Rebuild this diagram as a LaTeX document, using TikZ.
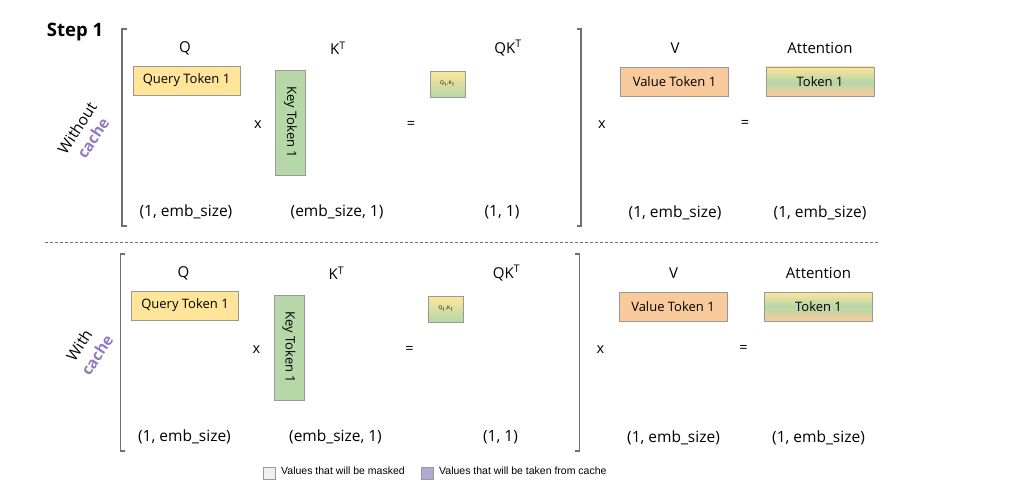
\documentclass[tikz,border=0pt]{standalone}
\usepackage{fontspec}
\setmainfont{Open Sans}
\newfontfamily\arialf{Liberation Sans}
\definecolor{qy}{HTML}{FFE599}
\definecolor{kg}{HTML}{B6D7A8}
\definecolor{vo}{HTML}{F9CB9C}
\definecolor{lgray}{HTML}{EFEFEF}
\definecolor{lpurp}{HTML}{B4A7D6}
\definecolor{cpurp}{HTML}{8E7CC3}
\definecolor{bord}{HTML}{999999}
\definecolor{brk}{HTML}{707070}
\tikzset{
  tok/.style={draw=bord, line width=0.9pt, inner sep=0pt, font=\fontsize{13}{15}\selectfont},
  hdr/.style={inner sep=0pt, font=\fontsize{15}{17}\selectfont},
  dim/.style={inner sep=0pt, font=\fontsize{15.5}{17}\selectfont},
  opr/.style={inner sep=0pt, font=\fontsize{14.5}{16}\selectfont},
  brack/.style={draw=brk, line width=1.4pt},
  side/.style={inner sep=0pt, rotate=57, font=\fontsize{15.5}{16}\selectfont},
  leg/.style={draw=bord, line width=0.8pt, minimum width=12pt, minimum height=12pt, inner sep=0pt},
  legtxt/.style={inner sep=0pt, anchor=west, font=\arialf\fontsize{10.5}{12}\selectfont}
}
\begin{document}
\begin{tikzpicture}[x=1pt,y=-1pt]
\useasboundingbox (0,0) rectangle (1014,495);
\node[inner sep=0pt, font=\bfseries\fontsize{18.5}{20}\selectfont] (step) at (75,32) {Step 1};
\node[side] (aside1) at (77,128) {Without};
\node[side, text=cpurp, font=\bfseries\fontsize{15.5}{16}\selectfont] (aside2) at (93,138) {cache};
\node[side] (bside1) at (79,345) {With};
\node[side, text=cpurp, font=\bfseries\fontsize{15.5}{16}\selectfont] (bside2) at (97,355) {cache};
\foreach \p/\dx/\dy in {a/0/0, b/-1.5/225}{
\begin{scope}[shift={(\dx,\dy)}]
  \coordinate (\p lt) at (122,29); \coordinate (\p lb) at (122,226);
  \coordinate (\p rt) at (581,29); \coordinate (\p rb) at (581,226);
  \draw[brack] ([xshift=4.5pt]\p lt) -- (\p lt) -- (\p lb) -- ([xshift=4.5pt]\p lb);
  \draw[brack] ([xshift=-4.5pt]\p rt) -- (\p rt) -- (\p rb) -- ([xshift=-4.5pt]\p rb);
  \node[hdr] (\p hq) at (185,48) {Q};
  \node[hdr] (\p hk) at (338,48) {K\textsuperscript{T}};
  \node[hdr] (\p hqk) at (508,48) {QK\textsuperscript{T}};
  \node[hdr] (\p hv) at (675,48) {V};
  \node[hdr] (\p ha) at (820,48) {Attention};
  \node[tok, fill=qy, minimum width=107pt, minimum height=29pt] (\p q) at (186.5,80.5) {Query Token 1};
  \node[tok, fill=kg, minimum width=30pt, minimum height=105pt] (\p k) at (290.5,122.5) {\rotatebox{-90}{Key Token 1}};
  \node[tok, top color=qy, bottom color=kg, minimum width=35pt, minimum height=26pt, font=\fontsize{5}{6}\selectfont] (\p qk) at (447.5,84) {Q\textsubscript{1},K\textsubscript{1}};
  \node[tok, fill=vo, minimum width=108pt, minimum height=29pt] (\p v) at (674.5,81.5) {Value Token 1};
  \node[tok, top color=qy, bottom color=vo, middle color=kg, minimum width=108pt, minimum height=29pt] (\p att) at (820,81.5) {Token 1};
  \node[opr] (\p x1) at (258,125) {x};
  \node[opr] (\p e1) at (411,125) {=};
  \node[opr] (\p x2) at (602,125) {x};
  \node[opr] (\p e2) at (745,124) {=};
  \node[dim] (\p d1) at (186,212) {(1, emb\_size)};
  \node[dim] (\p d2) at (337,212) {(emb\_size, 1)};
  \node[dim] (\p d3) at (502,212) {(1, 1)};
  \node[dim] (\p d4) at (675,213) {(1, emb\_size)};
  \node[dim] (\p d5) at (820,213) {(1, emb\_size)};
\end{scope}
}
\coordinate (dl) at (45,242); \coordinate (dr) at (878,242);
\draw[brk, line width=0.8pt, dash pattern=on 3pt off 2pt] (dl) -- (dr);
\node[leg, fill=lgray] (lg1) at (269.5,473) {};
\node[legtxt] (lt1) at (281,471) {Values that will be masked};
\node[leg, fill=lpurp] (lg2) at (427.5,473) {};
\node[legtxt] (lt2) at (439,471) {Values that will be taken from cache};
\end{tikzpicture}
\end{document}
